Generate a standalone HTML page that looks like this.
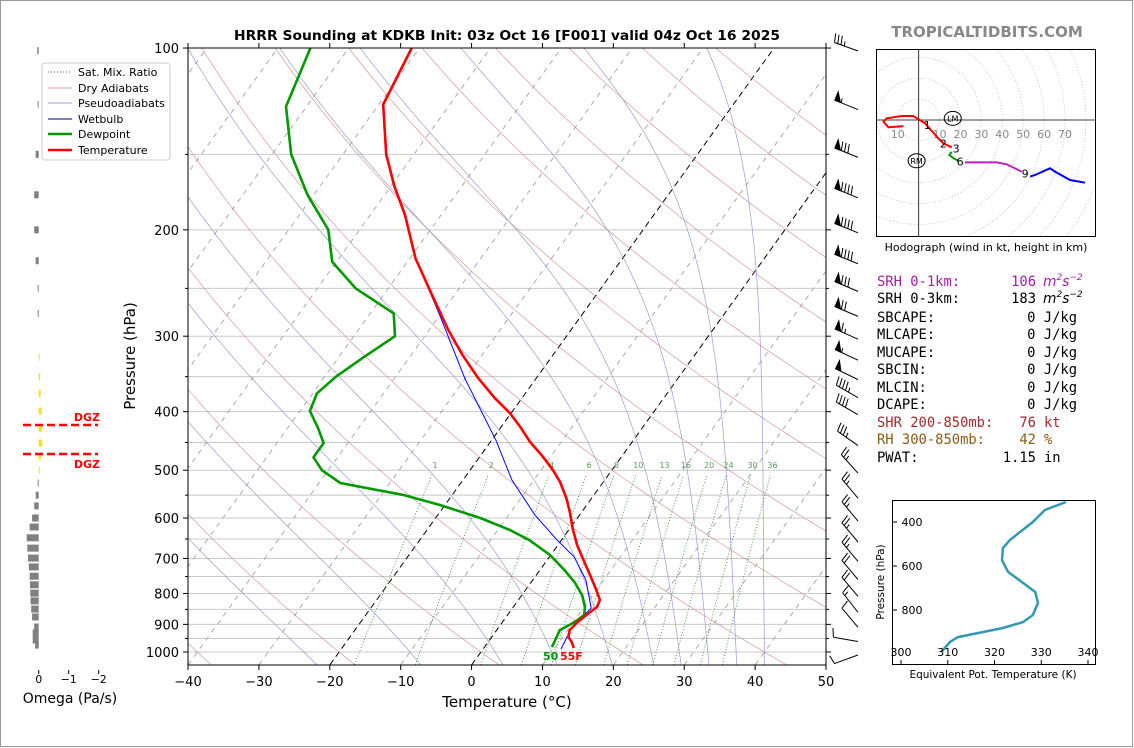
<!DOCTYPE html>
<html><head><meta charset="utf-8"><style>
html,body{margin:0;padding:0;background:#fff;}
svg{display:block;font-family:"DejaVu Sans","Liberation Sans",sans-serif;}
</style></head><body>
<svg id="root" width="1134" height="748" viewBox="0 0 1134 748" xmlns="http://www.w3.org/2000/svg">
<rect x="0.5" y="0.5" width="1132" height="746" fill="#fff" stroke="#999"/>
<defs>
<clipPath id="mainclip"><rect x="188" y="48" width="638" height="617"/></clipPath>
<clipPath id="hodoclip"><rect x="876" y="49" width="220" height="188"/></clipPath>
<clipPath id="theclip"><rect x="892" y="500" width="204" height="165"/></clipPath>
</defs>
<g id="bg" clip-path="url(#mainclip)"></g>
<g id="prof" clip-path="url(#mainclip)"></g>
<g id="axes"></g>
<g id="barbs"></g>
<g id="omega"></g>
<g id="hodo"></g>
<g id="thetae"></g>

<text x="987" y="37" text-anchor="middle" font-size="15" font-weight="bold" fill="#888">TROPICALTIDBITS.COM</text>
<text x="507" y="40" text-anchor="middle" font-size="13" font-weight="bold" textLength="546" lengthAdjust="spacingAndGlyphs">HRRR Sounding at KDKB Init: 03z Oct 16 [F001] valid 04z Oct 16 2025</text>
<text x="507" y="707" text-anchor="middle" font-size="15">Temperature (°C)</text>
<text transform="translate(135,356) rotate(-90)" text-anchor="middle" font-size="15">Pressure (hPa)</text>
<text x="543" y="660" font-size="11" font-weight="bold" fill="#009900">50</text>
<text x="560" y="660" font-size="11" font-weight="bold" fill="#ff0000">55F</text>

<g>
<rect x="42" y="63" width="128" height="97" rx="3" fill="#fff" stroke="#ccc"/>
<line x1="48" y1="72" x2="72" y2="72" stroke="#228b22" stroke-dasharray="1,2"/>
<text x="78" y="76" font-size="11">Sat. Mix. Ratio</text>
<line x1="48" y1="88" x2="72" y2="88" stroke="#d9a0a0"/>
<text x="78" y="92" font-size="11">Dry Adiabats</text>
<line x1="48" y1="103" x2="72" y2="103" stroke="#a0a0d9"/>
<text x="78" y="107" font-size="11">Pseudoadiabats</text>
<line x1="48" y1="119" x2="72" y2="119" stroke="#000080"/>
<text x="78" y="123" font-size="11">Wetbulb</text>
<line x1="48" y1="134" x2="72" y2="134" stroke="#009900" stroke-width="2.5"/>
<text x="78" y="138" font-size="11">Dewpoint</text>
<line x1="48" y1="150" x2="72" y2="150" stroke="#ff0000" stroke-width="2.5"/>
<text x="78" y="154" font-size="11">Temperature</text>
</g>

<g font-family="'DejaVu Sans Mono','Liberation Mono',monospace" font-size="13.8">
<text x="877" y="286" fill="#a020a0">SRH 0-1km:</text>
<text x="1036" y="286" text-anchor="end" fill="#a020a0">106</text>
<text x="1043" y="286" fill="#a020a0" font-style="italic" font-family="'DejaVu Sans',sans-serif">m<tspan font-size="9" dy="-6">2</tspan><tspan dy="6">s</tspan><tspan font-size="9" dy="-6">−2</tspan></text>
<text x="877" y="303">SRH 0-3km:</text>
<text x="1036" y="303" text-anchor="end">183</text>
<text x="1043" y="303" font-style="italic" font-family="'DejaVu Sans',sans-serif">m<tspan font-size="9" dy="-6">2</tspan><tspan dy="6">s</tspan><tspan font-size="9" dy="-6">−2</tspan></text>
<text x="877" y="322">SBCAPE:</text><text x="1077" y="322" text-anchor="end">0 J/kg</text>
<text x="877" y="339">MLCAPE:</text><text x="1077" y="339" text-anchor="end">0 J/kg</text>
<text x="877" y="357">MUCAPE:</text><text x="1077" y="357" text-anchor="end">0 J/kg</text>
<text x="877" y="374">SBCIN:</text><text x="1077" y="374" text-anchor="end">0 J/kg</text>
<text x="877" y="392">MLCIN:</text><text x="1077" y="392" text-anchor="end">0 J/kg</text>
<text x="877" y="409">DCAPE:</text><text x="1077" y="409" text-anchor="end">0 J/kg</text>
<text x="877" y="427" fill="#a52a2a">SHR 200-850mb:</text><text x="1036" y="427" text-anchor="end" fill="#a52a2a">76</text><text x="1044" y="427" fill="#a52a2a">kt</text>
<text x="877" y="444" fill="#8b5a14">RH 300-850mb:</text><text x="1036" y="444" text-anchor="end" fill="#8b5a14">42</text><text x="1044" y="444" fill="#8b5a14">%</text>
<text x="877" y="462">PWAT:</text><text x="1036" y="462" text-anchor="end">1.15</text><text x="1044" y="462">in</text>
</g>
</svg>
<script>
// ---------- data ----------
const presT=[100,124,150,169,189,223,252,293,322,352,380,402,424,449,474,500,523,556,586,628,665,704,746,784,820,842,865,892,920,944,963,985];
const tempC=[-71.1,-69.4,-63.9,-59.6,-55.1,-49.2,-43.9,-37.3,-32.8,-28.2,-23.8,-20.2,-17.3,-14.4,-11.2,-8.3,-6.1,-3.6,-1.7,0.6,2.7,5.1,7.6,9.7,11.5,11.8,11.2,10.6,10.3,10.8,11.8,12.7];
const presTd=[100,125,150,175,200,226,250,275,300,324,350,373,399,426,451,476,500,525,550,571,600,628,653,691,732,769,805,842,868,892,920,948,981];
const dewC=[-85.4,-82.9,-77.3,-70.9,-64.4,-60.6,-54.6,-46.7,-44.2,-46.4,-48.4,-49.4,-48.6,-45.7,-43.4,-43.4,-40.9,-37.0,-26.7,-20.7,-13.7,-8.3,-4.5,-0.1,3.5,6.3,8.5,10.1,10.8,10.2,8.9,9.2,9.5];
const presW=[100,124,150,169,189,223,277,352,446,519,593,653,696,760,846,909,989];
const wetC=[-71.1,-69.4,-63.9,-59.6,-55.1,-49.2,-40.0,-30.1,-19.4,-13.1,-6.3,-0.6,3.5,7.5,11.1,10.3,11.0];
const pTicks=[100,200,300,400,500,600,700,800,900,1000];
const pGrid=[150,250,350,450,550,650,750,850,950];
const tTicks=[-40,-30,-20,-10,0,10,20,30,40,50];
const dryTheta=[-60,-40,-20,0,20,40,60,80,100,120,140,160,180,200];
const moistT0=[-25,-10,2,10,18,24,28,32,36,40];
const mixRatios=[1,2,4,6,8,10,13,16,20,24,30,36];
const barbP=[100,125,150,175,200,225,250,275,300,325,350,375,400,450,500,550,600,650,700,750,800,850,900,950,1000];
const barbSpd=[35,55,80,90,90,90,80,70,65,55,50,45,40,35,25,25,25,25,25,20,20,15,10,10,10];
const barbDir=[290,292,292,292,292,292,293,293,294,295,296,300,300,305,318,320,320,320,320,320,320,322,320,280,250];
const omegaP=[101,124,150,175,200,225,250,275,325,350,373,399,426,451,474,500,525,550,573,600,621,647,673,699,723,749,774,799,823,849,875,909,930,955,974];
const omegaVal=[0.05,0.03,0.1,0.15,0.15,0.1,0.03,0.02,-0.03,-0.05,-0.07,-0.1,-0.12,-0.12,-0.08,-0.02,0.02,0.1,0.15,0.22,0.3,0.4,0.38,0.36,0.33,0.3,0.29,0.28,0.27,0.25,0.22,0.15,0.2,0.2,0.12];
const hodoRedU=[-7.3,-14.5,-16.9,-15.3,-8.1,-2.6,3.0,9.4,11.8,15.8];
const hodoRedV=[-2.9,-3.5,-0.8,0.8,1.9,1.9,-1.6,-8.8,-11.2,-13.1];
const hodoGreenU=[15.8,14.7,16.6,19.0];
const hodoGreenV=[-15.2,-16.7,-18.3,-19.5];
const hodoMagU=[22.2,37.3,42.1,49.3];
const hodoMagV=[-20.3,-20.3,-21.2,-24.7];
const hodoBlueU=[53.3,55.7,62.8,65.2,72.4,79.6];
const hodoBlueV=[-27.1,-26.3,-23.1,-24.7,-28.7,-30.0];
const hodoLabels=['1','2','3','6','9'];
const hodoLabU=[4.1,11.8,17.9,19.8,50.9];
const hodoLabV=[-2.4,-11.2,-13.6,-19.9,-25.5];
const thetaP=[309,345,400,445,482,518,573,627,677,718,768,823,855,882,923,945,991];
const thetaE=[335.3,330.8,328.2,325.5,323.3,321.8,321.6,322.9,326.1,328.7,329.3,328.2,326.1,321.8,312.2,310.5,308.6];

// ---------- helpers ----------
const NS='http://www.w3.org/2000/svg';
function mk(tag,attrs,parent){const e=document.createElementNS(NS,tag);for(const k in attrs)e.setAttribute(k,attrs[k]);if(parent)parent.appendChild(e);return e;}
function yOf(p){return 652+262.3*Math.log(p/1000);}
function xOf(T,p){return 188+(T+40)*7.089+(665-yOf(p))*0.72;}
function pathTP(ps,ts){return ps.map((p,i)=>(i?'L':'M')+xOf(ts[i],p).toFixed(1)+','+yOf(p).toFixed(1)).join('');}
const bg=document.getElementById('bg'),prof=document.getElementById('prof'),axes=document.getElementById('axes');

[...pTicks,...pGrid].forEach(p=>{
  const l=mk('line',{x1:188,x2:826,y1:yOf(p),y2:yOf(p),stroke:'#c8c8c8','stroke-width':1},bg);
  
  
});
for(let T=-140;T<=50;T+=10){
  const black=(T===0||T===-20);
  const l=mk('line',{x1:xOf(T,1050),y1:yOf(1050),x2:xOf(T,100),y2:yOf(100),stroke:black?'#000':'#aaa','stroke-width':1,'stroke-dasharray':black?'6,4':'5,5'},bg);
  
  
}
dryTheta.forEach(th=>{
  const ps=[],ts=[];
  for(let p=1050;p>=100;p-=10){ps.push(p);ts.push((th+273.15)*Math.pow(p/1000,0.286)-273.15);}
  const l=mk('path',{d:pathTP(ps,ts),fill:'none',stroke:'#d08080','stroke-width':0.7,'stroke-opacity':0.8},bg);
  
  
});
function dTdp(p,T){const Tk=T+273.15;const es=6.112*Math.exp(17.67*T/(T+243.5));const rs=0.622*es/(p-es);
  return (287.04*Tk+2.501e6*rs)/(1005.7+2.501e6*2.501e6*rs*0.622/(287.04*Tk*Tk))/p;}
moistT0.forEach(t0=>{
  const ps=[],ts=[];let T=t0;
  let Td=t0;for(let p=1000;p<1050;p+=2){Td+=dTdp(p,Td)*2;}
  ps.push(1050);ts.push(Td);
  for(let p=1000;p>=100;p-=2){ps.push(p);ts.push(T);T-=dTdp(p,T)*2;}
  const l=mk('path',{d:pathTP(ps,ts),fill:'none',stroke:'#9090d0','stroke-width':0.7,'stroke-opacity':0.9},bg);
  
  
});
mixRatios.forEach(w=>{
  const ps=[],ts=[];
  for(let p=1050;p>=510;p-=10){const e=(w/1000)*p/(0.622+w/1000);const a=Math.log(e/6.112);ps.push(p);ts.push(243.5*a/(17.67-a));}
  const l=mk('path',{d:pathTP(ps,ts),fill:'none',stroke:'#228b22','stroke-width':0.8,'stroke-dasharray':'1,2'},bg);
  
  
  const e=(w/1000)*495/(0.622+w/1000);const a=Math.log(e/6.112);
  const t=mk('text',{x:xOf(243.5*a/(17.67-a),495),y:468,'font-size':8,'text-anchor':'middle',fill:'#5a9e5a'},bg);
  t.textContent=w;
  
  
});
const wl=mk('path',{d:pathTP(presW,wetC),fill:'none',stroke:'#0000ff','stroke-width':1},prof);


const dl=mk('path',{d:pathTP(presTd,dewC),fill:'none',stroke:'#009900','stroke-width':2.6,'stroke-linejoin':'round'},prof);


const tl=mk('path',{d:pathTP(presT,tempC),fill:'none',stroke:'#ff0000','stroke-width':2.6,'stroke-linejoin':'round'},prof);



const fr=mk('rect',{x:188,y:48,width:638,height:617,fill:'none',stroke:'#000','stroke-width':1},axes);


pTicks.forEach(p=>{
  const y=yOf(p);
  mk('line',{x1:183,x2:188,y1:y,y2:y,stroke:'#000'},axes);
  mk('line',{x1:826,x2:831,y1:y,y2:y,stroke:'#000'},axes);
  const t=mk('text',{x:179,y:y+5,'text-anchor':'end','font-size':13},axes);
  t.textContent=p;
  
  
});
pGrid.forEach(p=>{const y=yOf(p);mk('line',{x1:185,x2:188,y1:y,y2:y,stroke:'#000'},axes);mk('line',{x1:826,x2:829,y1:y,y2:y,stroke:'#000'},axes);});
tTicks.forEach(T=>{
  const x=188+(T+40)*7.089;
  mk('line',{x1:x,x2:x,y1:665,y2:670,stroke:'#000'},axes);
  mk('line',{x1:x,x2:x,y1:43,y2:48,stroke:'#000'},axes);
  const t=mk('text',{x:x,y:686,'text-anchor':'middle','font-size':13},axes);
  t.textContent=(T<0?'−':'')+Math.abs(T);
  
  
});

const bG=document.getElementById('barbs');
barbP.forEach((p,i)=>{
  const g=mk('g',{stroke:'#000','stroke-width':1,fill:'#000'},bG);
  
  
  const sx=858,sy=yOf(p)+3,L=25,r=barbDir[i]*Math.PI/180;
  const ux=Math.sin(r),uy=-Math.cos(r),px=-uy,py=ux;
  const tx=sx+ux*L,ty=sy+uy*L;
  mk('line',{x1:sx,y1:sy,x2:tx,y2:ty},g);
  let s=barbSpd[i],d=0;
  const at=dd=>[tx-ux*dd,ty-uy*dd];
  while(s>=50){const a=at(d),b=at(d+6);mk('polygon',{points:`${a[0]},${a[1]} ${a[0]+px*9},${a[1]+py*9} ${b[0]},${b[1]}`},g);d+=7;s-=50;}
  while(s>=10){const a=at(d);mk('line',{x1:a[0],y1:a[1],x2:a[0]+px*9+ux*2,y2:a[1]+py*9+uy*2},g);d+=3.5;s-=10;}
  if(s>=5){if(d===0)d=3.5;const a=at(d);mk('line',{x1:a[0],y1:a[1],x2:a[0]+px*4.5+ux*1,y2:a[1]+py*4.5+uy*1},g);}
});

const oG=document.getElementById('omega');
omegaP.forEach((p,i)=>{
  const v=omegaVal[i],y=yOf(p),w=Math.max(1,Math.abs(v)*30);
  const x=v>0?38.7-w:38.7;
  const b=mk('rect',{x:x,y:y-3.5,width:w,height:7,fill:v>0?'#808080':'#f5e11e'},oG);
  
  
});
[[0,'0'],[-1,'−1'],[-2,'−2']].forEach(([v,s])=>{
  const x=38.7-v*30;
  mk('line',{x1:x,x2:x,y1:670,y2:674,stroke:'#000'},oG);
  const t=mk('text',{x:x,y:683,'text-anchor':'middle','font-size':11},oG);
  t.textContent=s;
  
  
});
const ot=mk('text',{x:70,y:703,'text-anchor':'middle','font-size':14},oG);
ot.textContent='Omega (Pa/s)';


[425,454].forEach((y,i)=>{
  const l=mk('line',{x1:23,x2:98,y1:y,y2:y,stroke:'#ff0000','stroke-width':2.5,'stroke-dasharray':'8,4'},oG);
  
  
  const t=mk('text',{x:100,y:i?468:421,'text-anchor':'end','font-size':11,'font-weight':'bold',fill:'#ff0000'},oG);
  t.textContent='DGZ';
  
  
});

const hG=document.getElementById('hodo');
const hx0=918.7,hy0=120,hs=2.09;
const hin=mk('g',{'clip-path':'url(#hodoclip)'},hG);
for(let r=10;r<=100;r+=10){const c=mk('circle',{cx:hx0,cy:hy0,r:r*hs,fill:'none',stroke:'#bbb','stroke-dasharray':'1,2','stroke-width':0.8},hin);
  
  }
mk('line',{x1:876,x2:1096,y1:hy0,y2:hy0,stroke:'#000','stroke-width':0.8},hin);
mk('line',{x1:hx0,x2:hx0,y1:49,y2:237,stroke:'#000','stroke-width':0.8},hin);
[[-10,'10'],[10,'10'],[20,'20'],[30,'30'],[40,'40'],[50,'50'],[60,'60'],[70,'70']].forEach(([k,s])=>{
  const t=mk('text',{x:hx0+k*hs,y:138,'text-anchor':'middle','font-size':11,fill:'#888'},hin);
  t.textContent=s;
  
  
});
function hpath(U,V){return U.map((u,i)=>(i?'L':'M')+(hx0+u*hs).toFixed(1)+','+(hy0-V[i]*hs).toFixed(1)).join('');}
[[hodoRedU,hodoRedV,'#ff0000','hodo-0-3km'],[hodoGreenU,hodoGreenV,'#009900','hodo-3-6km'],[hodoMagU,hodoMagV,'#c020c0','hodo-6-9km'],[hodoBlueU,hodoBlueV,'#0000ff','hodo-9km-plus']].forEach(([U,V,c,n])=>{
  const pth=mk('path',{d:hpath(U,V),fill:'none',stroke:c,'stroke-width':2},hin);
  
  
});
hodoLabels.forEach((s,i)=>{
  const t=mk('text',{x:hx0+hodoLabU[i]*hs,y:hy0-hodoLabV[i]*hs+4,'text-anchor':'middle','font-size':11},hin);
  t.textContent=s;
  
  
});
[[16.3,0.8,'LM'],[-1,-19.5,'RM']].forEach(([u,v,s])=>{
  const cx=hx0+u*hs,cy=hy0-v*hs;
  const e=mk('ellipse',{cx:cx,cy:cy,rx:8.5,ry:7,fill:'none',stroke:'#000'},hin);
  
  
  const t=mk('text',{x:cx,y:cy+3,'text-anchor':'middle','font-size':8},hin);
  t.textContent=s;
  
  
});
const hb=mk('rect',{x:876.5,y:49.5,width:219,height:187,fill:'none',stroke:'#000'},hG);


const hc=mk('text',{x:986,y:251,'text-anchor':'middle','font-size':11},hG);
hc.textContent='Hodograph (wind in kt, height in km)';



const eG=document.getElementById('thetae');
const ex=t=>901+(t-300)*4.675, ey=p=>522+(p-400)*0.22;
const ein=mk('g',{'clip-path':'url(#theclip)'},eG);
const ep=mk('path',{d:thetaP.map((p,i)=>(i?'L':'M')+ex(thetaE[i]).toFixed(1)+','+ey(p).toFixed(1)).join(''),fill:'none',stroke:'#3399b3','stroke-width':2.5},ein);


const eb=mk('rect',{x:892.5,y:500.5,width:203,height:164,fill:'none',stroke:'#000'},eG);


[400,600,800].forEach(p=>{
  mk('line',{x1:893,x2:897,y1:ey(p),y2:ey(p),stroke:'#000'},eG);
  const t=mk('text',{x:912,y:ey(p)+4,'text-anchor':'middle','font-size':11},eG);
  t.textContent=p;
  
  
});
[300,310,320,330,340].forEach(v=>{
  mk('line',{x1:ex(v),x2:ex(v),y1:660,y2:664,stroke:'#000'},eG);
  const t=mk('text',{x:ex(v),y:656,'text-anchor':'middle','font-size':11},eG);
  t.textContent=v;
  
  
});
const ext=mk('text',{x:993,y:678,'text-anchor':'middle','font-size':10.5},eG);
ext.textContent='Equivalent Pot. Temperature (K)';


const eyt=mk('text',{transform:'translate(884,582) rotate(-90)','text-anchor':'middle','font-size':10.5},eG);
eyt.textContent='Pressure (hPa)';


</script>
</body></html>
